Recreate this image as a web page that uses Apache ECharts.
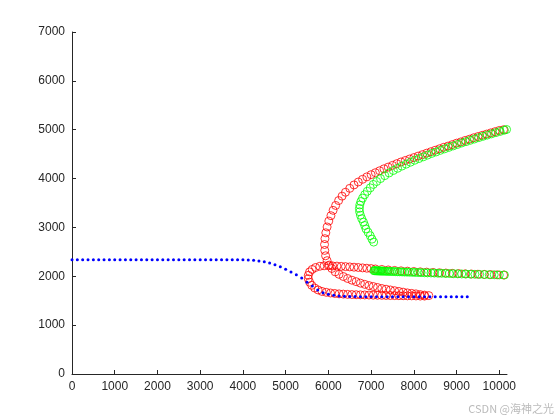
<!DOCTYPE html>
<html><head><meta charset="utf-8">
<script src="https://cdn.jsdelivr.net/npm/echarts@6/dist/echarts.min.js"></script>
<style>html,body{margin:0;padding:0;background:#fff}#c{width:560px;height:420px}</style>
</head><body><div id="c"></div>
<script>
var xTicks = [0,1000,2000,3000,4000,5000,6000,7000,8000,9000,10000];
var blueX0 = 0, blueStep = 125;
var blueY = [2340,2340,2340,2340,2340,2340,2340,2340,2340,2340,2340,2340,2340,2340,2340,2340,2340,2340,2340,2340,2340,2340,2340,2340,2340,2340,2340,2340,2340,2340,2340,2340,2340,
2335,2330,2315,2295,2270,2235,2195,2145,2090,2030,1965,1880,1800,1720,1665,1630,1610,1598,1590,1586,
1584,1583,1583,1582,1582,1582,1581,1581,1581,1581,1580,1580,1580,1580,1580,1580,1580,1580,1580,1580,1580,1580];
var redPts = [[10100,5000],[10000,4985],[9900,4960],[9800,4935],[9700,4910],[9600,4885],[9500,4860],[9400,4835],[9300,4805],[9200,4780],[9100,4750],[9000,4725],[8900,4695],[8800,4665],[8700,4640],[8600,4610],[8500,4580],[8400,4550],[8300,4520],[8200,4490],[8100,4460],[8000,4430],[7900,4400],[7800,4370],[7700,4340],[7600,4305],[7500,4270],[7400,4235],[7300,4200],[7200,4160],[7100,4120],[7000,4080],[6900,4035],[6800,3985],[6700,3930],[6600,3870],[6500,3800],[6400,3720],[6320,3640],[6240,3550],[6170,3450],[6110,3350],[6060,3240],[6010,3130],[5970,3010],[5940,2890],[5920,2770],[5910,2650],[5915,2530],[5935,2420],[5970,2320],[6020,2230],[6080,2160],[6160,2090],[6250,2040],[6350,1995],[6450,1955],[6550,1920],[6650,1890],[6750,1860],[6850,1835],[6950,1810],[7050,1790],[7150,1770],[7250,1750],[7350,1735],[7450,1720],[7550,1705],[7650,1690],[7750,1675],[7850,1660],[7950,1650],[8050,1640],[8150,1625],[8250,1615],[8350,1605],
[8250,1595],[8150,1595],[8050,1598],[7950,1600],[7850,1600],[7750,1602],[7650,1603],[7550,1605],[7450,1606],[7350,1608],[7250,1610],[7150,1612],[7050,1614],[6950,1616],[6850,1618],[6750,1620],[6650,1623],[6550,1626],[6450,1630],[6350,1635],[6250,1640],[6150,1648],[6050,1658],[5950,1672],[5850,1690],[5760,1720],[5680,1760],[5610,1815],[5560,1880],[5530,1950],[5530,2020],[5560,2090],[5620,2140],[5700,2180],[5800,2205],[5900,2215],[6000,2215],[6100,2212],[6200,2208],[6300,2203],[6400,2198],[6500,2192],[6600,2186],[6700,2180],[6800,2172],[6900,2165],[7000,2158],[7100,2150],[7250,2140],[7400,2130],[7550,2120],[7700,2112],[7850,2105],[8000,2098],[8150,2091],[8300,2085],[8450,2078],[8600,2072],[8750,2066],[8900,2060],[9050,2055],[9200,2050],[9350,2046],[9500,2042],[9650,2038],[9800,2034],[9950,2030],[10100,2026]];
var greenUpper = [[7060,2700],[7020,2760],[6980,2830],[6930,2900],[6880,2970],[6850,3040],[6820,3110],[6780,3180],[6750,3250],[6730,3320],[6725,3390],[6735,3460],[6760,3530],[6800,3600],[6850,3670],[6910,3740],[6980,3810],[7050,3880],[7130,3940],[7220,4000],[7320,4060],[7420,4115],[7520,4165],[7620,4210],[7720,4255],[7820,4295],[7920,4335],[8020,4375],[8120,4410],[8220,4445],[8320,4480],[8420,4515],[8520,4545],[8620,4578],[8720,4608],[8820,4638],[8920,4668],[9020,4698],[9120,4728],[9220,4755],[9320,4783],[9420,4810],[9520,4838],[9620,4865],[9720,4890],[9820,4915],[9920,4940],[10020,4965],[10120,4990],[10170,5005]];
var greenLower = [[7066,2115],[7080,2114],[7100,2113],[7120,2112],[7140,2111],[7160,2110],[7180,2110],[7200,2109],[7220,2108],[7245,2107],[7270,2106],[7300,2105],[7330,2104],[7365,2102],[7400,2101],[7440,2100],[7480,2098],[7525,2097],[7570,2095],[7620,2093],[7670,2091],[7725,2089],[7780,2087],[7840,2085],[7900,2083],[7965,2081],[8030,2079],[8100,2077],[8170,2075],[8245,2072],[8320,2070],[8400,2068],[8480,2066],[8565,2063],[8650,2061],[8740,2058],[8830,2056],[8925,2053],[9020,2051],[9120,2048],[9220,2046],[9325,2043],[9430,2041],[9540,2038],[9650,2036],[9765,2033],[9880,2031],[10000,2028],[10120,2026],[10200,2024]];

var blueData = blueY.map(function(y,i){return [blueX0+i*blueStep,y];});
var chart = echarts.init(document.getElementById('c'));
var lab = {color:'#262626',fontSize:12,fontFamily:'Liberation Sans, Arial',formatter:function(v){return String(v);}};
function ring(c){return {symbol:'circle',symbolSize:8,itemStyle:{color:'rgba(0,0,0,0)',borderColor:c,borderWidth:0.8,opacity:1}};}
chart.setOption({
  animation:false,
  grid:{left:72,top:32,right:53,bottom:46},
  xAxis:{type:'value',min:0,max:10180,interval:1000,
    axisLine:{lineStyle:{color:'#262626'}},axisTick:{inside:true,length:4,lineStyle:{color:'#262626'}},
    axisLabel:Object.assign({showMaxLabel:false,margin:7},lab),splitLine:{show:false}},
  yAxis:{type:'value',min:0,max:7000,interval:1000,
    axisLine:{show:true,lineStyle:{color:'#262626'}},axisTick:{show:true,inside:true,length:4,lineStyle:{color:'#262626'}},
    axisLabel:Object.assign({margin:7},lab),splitLine:{show:false}},
  series:[
    {type:'scatter',data:blueData,symbol:'circle',symbolSize:3,itemStyle:{color:'#0000ff',opacity:1},z:3},
    Object.assign({type:'scatter',data:redPts,z:2},ring('#ff0000')),
    Object.assign({type:'scatter',data:greenUpper,z:4},ring('#00ff00')),
    Object.assign({type:'scatter',data:greenLower,z:4},ring('#00ff00'))
  ],
  graphic:[{type:'text',right:6,bottom:6,style:{text:'CSDN @海神之光',fill:'#bbbbbb',fontSize:11,fontFamily:'Noto Sans CJK SC'}}]
});
</script></body></html>
